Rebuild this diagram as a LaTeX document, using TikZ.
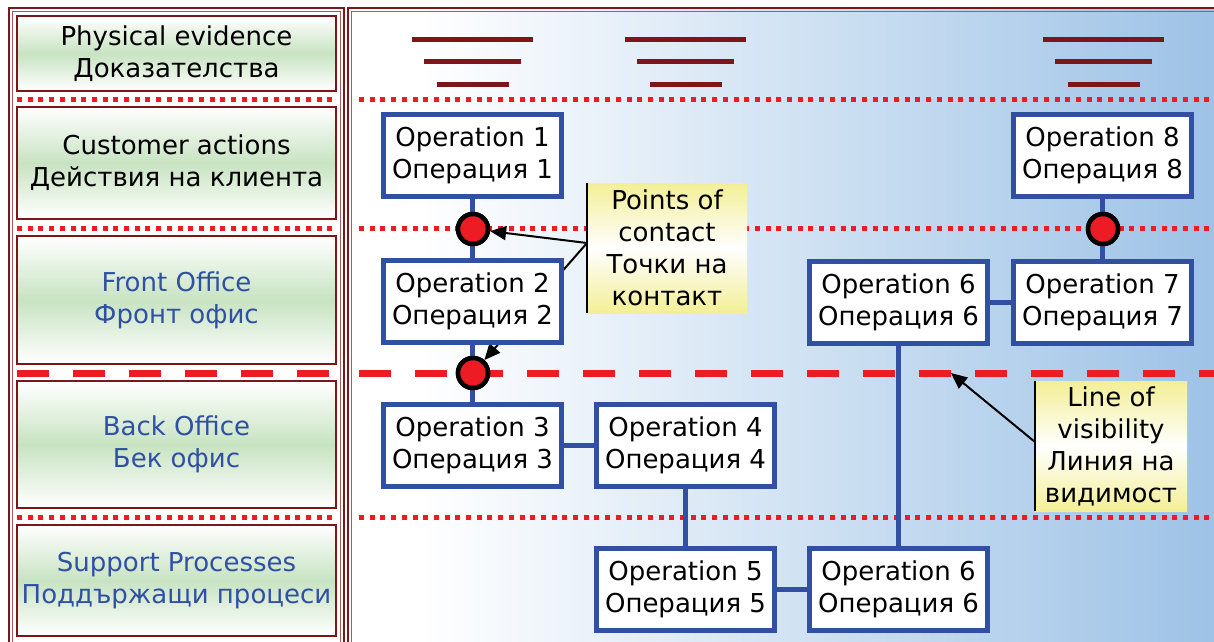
\documentclass[tikz,border=0pt]{standalone}
\usepackage{fontspec}
\setmainfont{DejaVu Sans}
\usetikzlibrary{arrows.meta}
\definecolor{maroon}{RGB}{125,22,24}
\definecolor{redl}{RGB}{237,28,36}
\definecolor{boxblue}{RGB}{49,79,163}
\definecolor{txtblue}{RGB}{47,80,165}
\definecolor{grn}{RGB}{200,227,194}
\definecolor{ylw}{RGB}{243,239,150}
\definecolor{bgblue}{RGB}{152,191,229}
\tikzset{
  lbl/.style={draw=maroon, line width=2.2pt, top color=white, bottom color=white, middle color=grn,
    minimum width=319pt, align=center, inner sep=0pt, font=\fontsize{26}{32}\selectfont},
  opbox/.style={draw=boxblue, line width=5pt, fill=white, minimum width=178pt, minimum height=82pt,
    align=center, inner sep=0pt, font=\fontsize{26}{32}\selectfont},
  conn/.style={draw=boxblue, line width=5pt},
  pnt/.style={circle, fill=redl, draw=black, line width=4.5pt, minimum size=30pt, inner sep=0pt},
  notebox/.style={top color=ylw, bottom color=ylw, middle color=white, align=center, inner sep=0pt,
    font=\fontsize{26}{32}\selectfont},
  dotl/.style={draw=redl, line width=5pt, dash pattern=on 5pt off 5.7pt},
  dashl/.style={draw=redl, line width=7pt, dash pattern=on 32pt off 24pt},
  pebar/.style={draw=maroon, line width=5pt},
  arr/.style={draw=black, line width=2pt, -{Triangle[length=16pt,width=14pt]}},
  panelout/.style={draw=maroon, line width=2pt},
  panelin/.style={draw=maroon!70, line width=1pt},
}
\begin{document}
\begin{tikzpicture}[x=1pt, y=-1pt]
\useasboundingbox (0,0) rectangle (1214,641);
\fill[white] (0,0) rectangle (1214,641);
\clip (0,0) rectangle (1214,641);
% right panel background
\fill[white] (350,8.5) rectangle (420,700);
\shade[left color=white, right color=bgblue] (419,8.5) rectangle (1260,700);
\draw[panelout] (348,8) rectangle (1260,700);
\draw[panelin] (351.5,11.5) rectangle (1260,700);
\draw[panelout] (9,8) rectangle (344,700);
\draw[panelin] (12.5,11.5) rectangle (340.5,700);
% left labels
\node[lbl, minimum height=75pt] (l1) at (176.5,53.5) {Physical evidence\\Доказателства};
\node[lbl, minimum height=112pt] (l2) at (176.5,163) {Customer actions\\Действия на клиента};
\node[lbl, minimum height=128pt, text=txtblue] (l3) at (176.5,300) {Front Office\\Фронт офис};
\node[lbl, minimum height=127pt, text=txtblue] (l4) at (176.5,444.5) {Back Office\\Бек офис};
\node[lbl, minimum height=111pt, text=txtblue] (l5) at (176.5,580.5) {Support Processes\\Поддържащи процеси};
% separator lines
\draw[dotl] (17,99) -- (333,99);
\draw[dotl] (17,228) -- (333,228);
\draw[dashl] (17,373) -- (333,373);
\draw[dotl] (17,517) -- (333,517);
\draw[dotl] (359,99) -- (1214,99);
\draw[dotl] (359,228) -- (1214,228);
\draw[dashl] (359,373) -- (1230,373);
\draw[dotl] (359,517) -- (1214,517);
% physical evidence bars
\foreach \cx in {472.5,685.5,1103.5}{
  \draw[pebar] (\cx-60.5,39) -- (\cx+60.5,39);
  \draw[pebar] (\cx-48.5,61) -- (\cx+48.5,61);
  \draw[pebar] (\cx-36,84) -- (\cx+36,84);
}
% callouts
\node[notebox, minimum width=160pt, minimum height=130pt] (poc) at (667,248) {Points of\\contact\\Точки на\\контакт};
\node[notebox, minimum width=152pt, minimum height=130pt] (lov) at (1111,446) {Line of\\visibility\\Линия на\\видимост};
\draw[line width=2pt] (poc.north west) -- (poc.south west);
\draw[line width=2pt] (lov.north west) -- (lov.south west);
\coordinate (pocA) at (587,243);
\coordinate (lovA) at (1035,442);
\coordinate (lovpt) at (951,373);
% circles (for arrow targets)
\node[pnt] (c1) at (473,229) {};
\node[pnt] (c2) at (473,373) {};
\node[pnt] (c3) at (1103,229) {};
\draw[arr] (pocA) -- (c1);
\draw[arr] (pocA) -- (c2);
\draw[arr] (lovA) -- (lovpt);
% boxes
\node[opbox] (op1) at (472.5,155) {Operation 1\\Операция 1};
\node[opbox] (op2) at (472.5,301) {Operation 2\\Операция 2};
\node[opbox] (op3) at (472.5,445) {Operation 3\\Операция 3};
\node[opbox] (op4) at (685.5,445) {Operation 4\\Операция 4};
\node[opbox] (op5) at (685.5,589) {Operation 5\\Операция 5};
\node[opbox] (op6b) at (898.5,589) {Operation 6\\Операция 6};
\node[opbox] (op6t) at (898.5,302) {Operation 6\\Операция 6};
\node[opbox] (op7) at (1102.5,302) {Operation 7\\Операция 7};
\node[opbox] (op8) at (1102.5,155) {Operation 8\\Операция 8};
% connectors
\draw[conn] (op1.south) -- (op2.north);
\draw[conn] (op2.south) -- (op3.north);
\draw[conn] (op3.east) -- (op4.west);
\draw[conn] (op4.south) -- (op5.north);
\draw[conn] (op5.east) -- (op6b.west);
\draw[conn] (op6t.south) -- (op6b.north);
\draw[conn] (op6t.east) -- (op7.west);
\draw[conn] (op8.south) -- (op7.north);
% circles on top of connectors
\node[pnt] at (c1) {};
\node[pnt] at (c2) {};
\node[pnt] at (c3) {};
\end{tikzpicture}
\end{document}
